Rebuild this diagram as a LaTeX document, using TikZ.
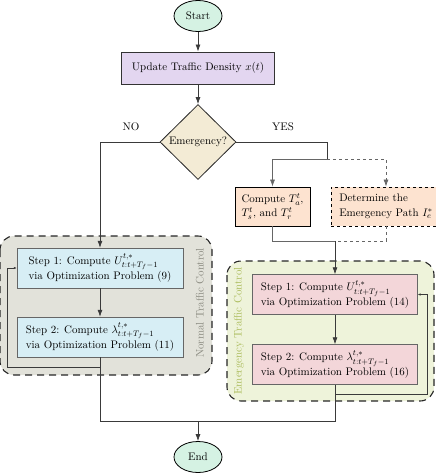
\documentclass[tikz,border=0pt,11pt]{standalone}
\usetikzlibrary{shapes.geometric,arrows.meta}
\definecolor{termfill}{HTML}{D5F2E3}
\definecolor{updfill}{HTML}{E3D6F0}
\definecolor{decfill}{HTML}{F3EBD5}
\definecolor{compfill}{HTML}{FDE3D0}
\definecolor{nstepfill}{HTML}{D7EEF5}
\definecolor{estepfill}{HTML}{F3D6D9}
\definecolor{ngroupfill}{HTML}{E2E2DA}
\definecolor{egroupfill}{HTML}{EEF3DA}
\definecolor{nlabel}{HTML}{8A8A80}
\definecolor{elabel}{HTML}{AABB5A}
\definecolor{linecol}{HTML}{3A3A3A}
\begin{document}
\begin{tikzpicture}[>={Latex[length=7pt,width=5pt]}, x=1pt, y=-1pt,
  term/.style={ellipse, draw=black, thick, fill=termfill, minimum width=48pt, minimum height=31pt, inner sep=0pt},
  decision/.style={diamond, draw=black!85, thick, fill=decfill, minimum width=76pt, minimum height=75pt, inner sep=0pt},
  stepbox/.style={rectangle, draw=black!60, align=left, minimum width=166pt, minimum height=40pt, inner sep=3pt},
  compbox/.style={rectangle, draw=black, thick, fill=compfill, align=left, minimum height=39pt, inner sep=3pt},
  group/.style={draw=black!85, line width=1.1pt, dash pattern=on 7pt off 5pt, rounded corners=14pt},
  link/.style={draw=linecol, line width=0.7pt},
  fb/.style={draw=linecol, line width=0.6pt, -{Latex[length=3pt,width=2.5pt]}}]
\useasboundingbox (0,0) rectangle (436,474);
% control groups
\draw[group, fill=ngroupfill] (0,236) rectangle (212,375);
\draw[group, fill=egroupfill] (227,261) rectangle (434,401);
\node[rotate=90, text=nlabel] (nlab) at (200,303) {Normal Traffic Control};
\node[rotate=90, text=elabel] (elab) at (239,331) {Emergency Traffic Control};

\node[term] (start) at (198,16) {Start};
\node[rectangle, draw=black!80, line width=1pt, fill=updfill, minimum width=153pt, minimum height=32pt] (update) at (198,68) {Update Traffic Density $x(t)$};
\node[decision] (emerg) at (198,142) {Emergency?};
\node (no) at (131,127) {NO};
\node (yes) at (283,127) {YES};
\node[compbox, minimum width=75pt] (compute) at (272.5,206.5) {Compute $T_a^t$,\\[1pt]$T_s^t$, and $T_r^t$};
\node[compbox, dashed, minimum width=110pt] (determine) at (386,206.5) {Determine the\\[1pt]Emergency Path $I_e^*$};
\node[stepbox, fill=nstepfill] (nstep1) at (100,268) {Step 1: Compute $U^{t,*}_{t:t+T_f-1}$\\via Optimization Problem (9)};
\node[stepbox, fill=nstepfill] (nstep2) at (100,337) {Step 2: Compute $\lambda^{t,*}_{t:t+T_f-1}$\\via Optimization Problem (11)};
\node[stepbox, fill=estepfill, minimum width=165pt] (estep1) at (335,294.5) {Step 1: Compute $U^{t,*}_{t:t+T_f-1}$\\via Optimization Problem (14)};
\node[stepbox, fill=estepfill, minimum width=165pt] (estep2) at (335,364.5) {Step 2: Compute $\lambda^{t,*}_{t:t+T_f-1}$\\via Optimization Problem (16)};
\node[term] (finish) at (198,457) {End};

\coordinate (ysplit) at (327,159);
\coordinate (ymerge) at (335,241);
\coordinate (nfb) at (7,367);
\coordinate (efb) at (427,394);
\coordinate (endmerge) at (198,421);

\draw[link, ->] (start) -- (update);
\draw[link, ->] (update) -- (emerg);
\draw[link, ->] (emerg.west) -| (nstep1.north);
\draw[link] (emerg.east) -| (ysplit);
\draw[link, draw=black!60, ->] (ysplit) -| (compute.north);
\draw[link, draw=black!60, dashed, ->] (ysplit) -| (determine.north);
\draw[link, draw=black!60] (compute.south) |- (ymerge);
\draw[link, draw=black!60, dashed] (determine.south) |- (ymerge);
\draw[link, ->] (ymerge) -- (estep1.north);
\draw[link, ->] (nstep1) -- (nstep2);
\draw[link, ->] (estep1) -- (estep2);
\draw[fb] (nstep2.south |- nfb) -- (nfb) |- (nstep1.west);
\draw[fb] (estep2.south |- efb) -- (efb) |- (estep1.east);
\draw[link] (nstep2.south) |- (endmerge);
\draw[link] (estep2.south) |- (endmerge);
\draw[link, ->] (endmerge) -- (finish);
\end{tikzpicture}
\end{document}
